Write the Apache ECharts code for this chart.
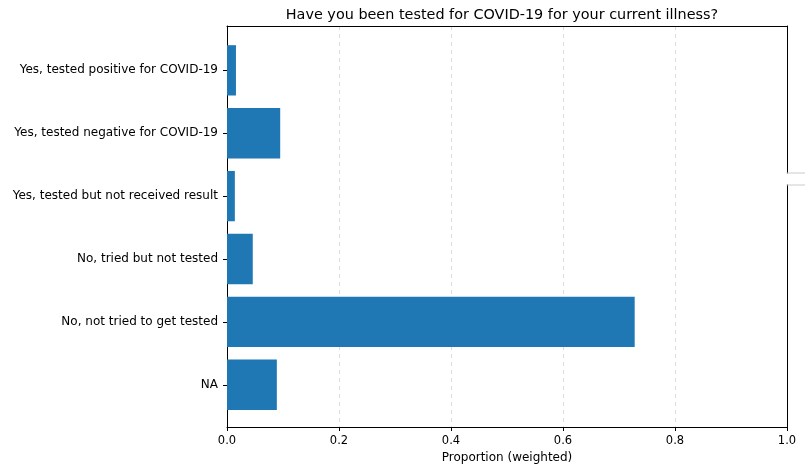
<!DOCTYPE html>
<html>
<head>
<meta charset="utf-8">
<script src="https://cdn.jsdelivr.net/npm/echarts@6/dist/echarts.min.js"></script>
<style>
  html, body { margin: 0; padding: 0; background: #fff; }
  #chart { width: 805px; height: 469px; }
</style>
</head>
<body>
<div id="chart"></div>
<script>
// categories (top to bottom) and weighted proportions
const categories = [
  'Yes, tested positive for COVID-19',
  'Yes, tested negative for COVID-19',
  'Yes, tested but not received result',
  'No, tried but not tested',
  'No, not tried to get tested',
  'NA'
];
const proportions = [0.016, 0.095, 0.014, 0.046, 0.728, 0.089];
const xTicks = [0, 0.2, 0.4, 0.6, 0.8, 1.0];

const font = 'DejaVu Sans';
const chart = echarts.init(document.getElementById('chart'));

chart.setOption({
  animation: false,
  title: {
    text: 'Have you been tested for COVID-19 for your current illness?',
    left: 497, top: 3, textAlign: 'center',
    textStyle: { fontFamily: font, fontSize: 14.4, fontWeight: 'normal', color: '#000' }
  },
  grid: [
    // frame (axes box)
    { left: 227, right: 18, top: 26, bottom: 41 },
    // bar area, inset by the category margins
    { left: 227, right: 18, top: 38.9, height: 377.3 }
  ],
  xAxis: [
    {
      gridIndex: 0, type: 'value', min: 0, max: 1, interval: 0.2,
      name: 'Proportion (weighted)', nameLocation: 'middle', nameGap: 25,
      nameTextStyle: { fontFamily: font, fontSize: 12, color: '#000' },
      axisLine: { show: true, onZero: false, lineStyle: { color: '#000' } },
      axisTick: { show: true, length: 4, lineStyle: { color: '#000' } },
      axisLabel: {
        fontFamily: font, fontSize: 11.5, color: '#000', margin: 8,
        formatter: v => v.toFixed(1)
      },
      splitLine: { show: true, showMinLine: false, showMaxLine: false, lineStyle: { color: '#dcdcdc', type: [4, 4] } }
    },
    { gridIndex: 1, type: 'value', min: 0, max: 1, show: false },
    // top spine
    {
      gridIndex: 0, type: 'value', min: 0, max: 1, position: 'top',
      axisLine: { show: true, onZero: false, lineStyle: { color: '#000' } },
      axisTick: { show: false }, axisLabel: { show: false }, splitLine: { show: false }
    }
  ],
  yAxis: [
    {
      gridIndex: 0, type: 'value', min: 0, max: 1, position: 'left',
      axisLine: { show: true, onZero: false, lineStyle: { color: '#000' } },
      axisTick: { show: false }, axisLabel: { show: false }, splitLine: { show: false }
    },
    {
      gridIndex: 1, type: 'category', inverse: true, data: categories,
      axisLine: { show: false },
      axisTick: { show: true, alignWithLabel: true, length: 4, lineStyle: { color: '#000' } },
      axisLabel: { fontFamily: font, fontSize: 12, color: '#000', margin: 9 },
      splitLine: { show: false }
    },
    // right spine
    {
      gridIndex: 0, type: 'value', min: 0, max: 1, position: 'right',
      axisLine: { show: true, onZero: false, lineStyle: { color: '#000' } },
      axisTick: { show: false }, axisLabel: { show: false }, splitLine: { show: false }
    }
  ],
  series: [{
    type: 'bar',
    xAxisIndex: 1, yAxisIndex: 1,
    data: proportions,
    barCategoryGap: '20%',
    itemStyle: { color: '#1f77b4' }
  }],
  // clipped legend frame poking through the right spine
  graphic: [
    { type: 'rect', shape: { x: 785, y: 173.5, width: 20, height: 11 }, style: { fill: '#fff' }, z: 100 },
    { type: 'line', shape: { x1: 786.5, y1: 173, x2: 805, y2: 173 }, style: { stroke: '#ccc', lineWidth: 1 }, z: 101 },
    { type: 'line', shape: { x1: 786.5, y1: 185, x2: 805, y2: 185 }, style: { stroke: '#ccc', lineWidth: 1 }, z: 101 }
  ]
});
</script>
</body>
</html>
